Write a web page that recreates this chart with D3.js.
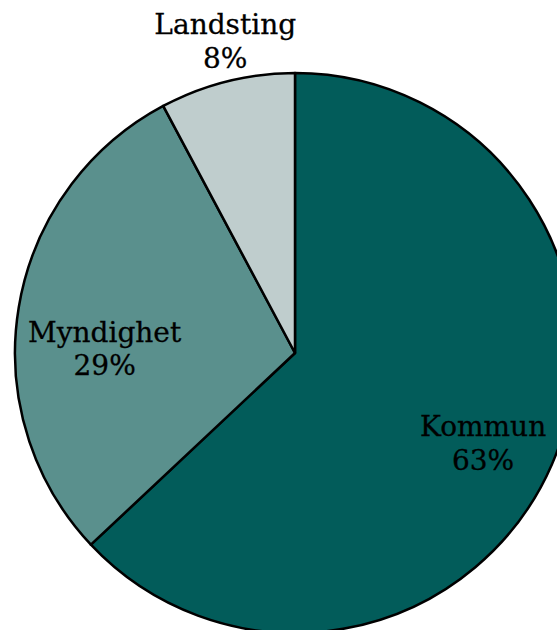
<!DOCTYPE html>
<html>
<head>
<meta charset="utf-8">
<script src="https://cdn.jsdelivr.net/npm/d3@7"></script>
<style>
  html, body { margin: 0; padding: 0; background: #fff; overflow: hidden; }
  svg { display: block; }
</style>
</head>
<body>
<svg id="chart"></svg>
<script>
// Share of total per organisation type
const categories = ['Kommun', 'Myndighet', 'Landsting'];
const shares = [63.0, 29.2, 7.8];
const colors = ['#025c5a', '#5a908d', '#bfcdcd'];

const width = 557, height = 630;
const cx = 295, cy = 353, radius = 280;

// label placement: fraction of radius + small angle nudge (degrees)
const labelPos = {
  Kommun: { r: 0.75, nudge: 3 },
  Myndighet: { r: 0.68, nudge: -9 },
  Landsting: { r: 1.13, nudge: 1.3 }
};

const svg = d3.select('#chart')
  .attr('width', width)
  .attr('height', height)
  .attr('viewBox', `0 0 ${width} ${height}`);

const data = categories.map((c, i) => ({ name: c, value: shares[i], color: colors[i] }));

const pie = d3.pie().value(d => d.value).sort(null);
const arcs = pie(data);

const arc = d3.arc().innerRadius(0).outerRadius(radius);

const g = svg.append('g').attr('transform', `translate(${cx}, ${cy})`);

g.selectAll('path')
  .data(arcs)
  .join('path')
  .attr('d', arc)
  .attr('fill', d => d.data.color)
  .attr('stroke', '#000')
  .attr('stroke-width', 2.5)
  .attr('stroke-linejoin', 'round');

// Labels
arcs.forEach(d => {
  const p = labelPos[d.data.name];
  const mid = (d.startAngle + d.endAngle) / 2 + p.nudge * Math.PI / 180;
  const x = Math.sin(mid) * radius * p.r;
  const y = -Math.cos(mid) * radius * p.r;
  const t = g.append('text')
    .attr('x', x)
    .attr('y', y)
    .attr('text-anchor', 'middle')
    .attr('font-family', '"DejaVu Serif", serif')
    .attr('font-size', '28px')
    .attr('fill', '#000')
    .attr('stroke', '#000')
    .attr('stroke-width', 0.3);
  t.append('tspan').attr('x', x).attr('dy', '-0.36em').text(d.data.name);
  t.append('tspan').attr('x', x).attr('dy', '1.2em').text(`${Math.round(d.data.value)}%`);
});
</script>
</body>
</html>
